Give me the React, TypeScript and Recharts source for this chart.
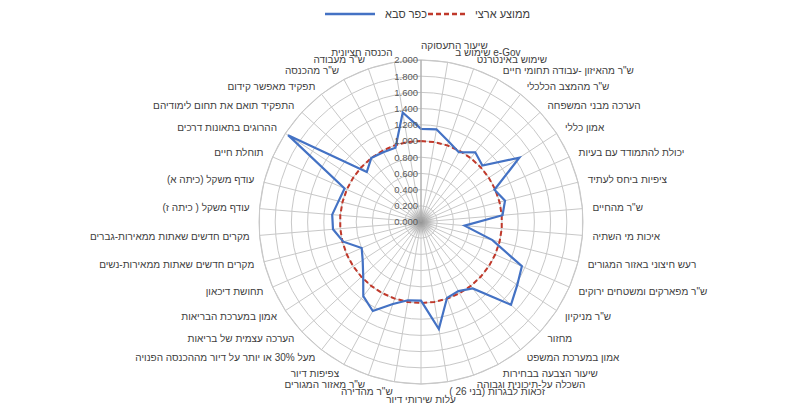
import React from 'react';
import { RadarChart, Radar, PolarGrid, PolarAngleAxis, PolarRadiusAxis, Legend, Customized } from 'recharts';

// categories clockwise from the top spoke
const categories = [
  'שיעור התעסוקה',
  'שימוש ב e-Gov',
  'שימוש באינטרנט',
  'ש"ר מהאיזון -עבודה תחומי חיים',
  'ש"ר מהמצב הכלכלי',
  'הערכה מבני המשפחה',
  'אמון כללי',
  'יכולת להתמודד עם בעיות',
  'ציפיות ביחס לעתיד',
  'ש"ר מהחיים',
  'איכות מי השתיה',
  'רעש חיצוני באזור המגורים',
  'ש"ר מפארקים ומשטחים ירוקים',
  'ש"ר מניקיון',
  'מחזור',
  'אמון במערכת המשפט',
  'שיעור הצבעה בבחירות',
  'השכלה על-תיכונית וגבוהה',
  'זכאות לבגרות (בני 26 )',
  'עלות שירותי דיור',
  'ש"ר מהדירה',
  'ש"ר מאזור המגורים',
  'צפיפות דיור',
  'מעל 30% או יותר על דיור מההכנסה הפנויה',
  'הערכה עצמית של בריאות',
  'אמון במערכת הבריאות',
  'תחושת דיכאון',
  'מקרים חדשים שאתות ממאירות-נשים',
  'מקרים חדשים שאתות ממאירות-גברים',
  'עודף משקל ( כיתה ז)',
  'עודף משקל (כיתה א)',
  'תוחלת חיים',
  'ההרוגים בתאונות דרכים',
  'התפקיד תואם את תחום לימודיהם',
  'תפקיד מאפשר קידום',
  'ש"ר מהכנסה',
  'ש"ר מעבודה',
  'הכנסה חציונית',
];

const kfarSaba = [
  1.15, 1.16, 1.05, 0.98, 1.09, 1.03, 1.45, 0.99, 1.07, 1.01,
  0.54, 0.91, 1.36, 1.42, 1.51, 1.04, 0.97, 0.99, 1.34, 0.97,
  0.98, 1.07, 1.25, 1.16, 0.97, 0.86, 0.8, 0.99, 1.09, 1.1,
  1.05, 1.03, 1.96, 0.91, 1.0, 0.98, 0.97, 1.37,
];

const nationalAvg = [
  1, 1, 1, 1, 1, 1, 1, 1, 1, 1,
  1, 1, 1, 1, 1, 1, 1, 1, 1, 1,
  1, 1, 1, 1, 1, 1, 1, 1, 1, 1,
  1, 1, 1, 1, 1, 1, 1, 1,
];

const radiusTicks = [0, 0.2, 0.4, 0.6, 0.8, 1.0, 1.2, 1.4, 1.6, 1.8, 2.0];

const data = categories.map((name, i) => ({ name, kfarSaba: kfarSaba[i], avg: nationalAvg[i] }));

const CX = 413;
const CY = 214;
const R = 162;
const FONT = "Arial, 'Liberation Sans', 'DejaVu Sans', sans-serif";

const AngleTick = (props: any) => {
  const { payload } = props;
  const i = categories.indexOf(payload.value);
  const a = (i * 2 * Math.PI) / categories.length;
  const s = Math.sin(a);
  const c = Math.cos(a);
  // the very top and bottom labels sit a little further out, like Excel does
  const off = Math.abs(c) > 0.999 ? 15 : 10;
  const x = CX + (R + off) * s + (i === 1 ? 6 : 0);
  const y = CY - (R + off) * c;
  let anchor = s > 0.02 ? 'start' : s < -0.02 ? 'end' : 'middle';
  if (i === 0) anchor = 'start';
  return (
    <text x={x} y={y} dy="0.35em" textAnchor={anchor} fontSize={10} fill="#404040" fontFamily={FONT}>
      {payload.value}
    </text>
  );
};

const RadiusTick = (props: any) => {
  const { x, y, payload } = props;
  return (
    <text x={x - 3} y={y} dy="0.35em" textAnchor="end" fontSize={9.5} fill="#595959" fontFamily={FONT}>
      {Number(payload.value).toFixed(3)}
    </text>
  );
};

const CenterGlow = () => (
  <g>
    <defs>
      <radialGradient id="glow">
        <stop offset="0%" stopColor="#8c8c8c" stopOpacity={0.9} />
        <stop offset="60%" stopColor="#b0b0b0" stopOpacity={0.5} />
        <stop offset="100%" stopColor="#d0d0d0" stopOpacity={0} />
      </radialGradient>
    </defs>
    <circle cx={CX} cy={CY} r={16} fill="url(#glow)" />
  </g>
);

const renderLegend = () => (
  <svg width={790} height={20} style={{ display: 'block' }}>
    <line x1={317} y1={6} x2={367} y2={6} stroke="#4472c4" strokeWidth={2.5} />
    <text x={377} y={6} dy="0.35em" fontSize={11} fill="#404040" fontFamily={FONT}>כפר סבא</text>
    <line x1={420} y1={6} x2={459} y2={6} stroke="#c0392b" strokeWidth={2.5} strokeDasharray="5 3" />
    <text x={467} y={6} dy="0.35em" fontSize={11} fill="#404040" fontFamily={FONT}>ממוצע ארצי</text>
  </svg>
);

export default function App() {
  return (
    <div style={{ width: 790, height: 400, fontFamily: FONT }}>
      <RadarChart width={790} height={400} data={data} cx={CX} cy={CY} outerRadius={R} margin={{ top: 0, right: 0, bottom: 0, left: 0 }}>
        <Legend verticalAlign="top" content={renderLegend} wrapperStyle={{ top: 0, left: 0, width: 790 }} />
        <PolarGrid gridType="circle" stroke="#c8c8c8" strokeWidth={1} />
        <Customized component={CenterGlow} />
        <PolarAngleAxis dataKey="name" tick={<AngleTick />} tickLine={false} axisLine={{ stroke: '#c8c8c8' }} />
        <PolarRadiusAxis
          angle={90}
          domain={[0, 2]}
          ticks={radiusTicks as any}
          tickCount={11}
          tick={<RadiusTick />}
          tickLine={false}
          axisLine={{ stroke: '#a6a6a6' }}
        />
        <Radar
          name="ממוצע ארצי"
          dataKey="avg"
          stroke="#c0392b"
          strokeWidth={2}
          strokeDasharray="5 3"
          fill="none"
          fillOpacity={0}
          dot={false}
          isAnimationActive={false}
        />
        <Radar
          name="כפר סבא"
          dataKey="kfarSaba"
          stroke="#4472c4"
          strokeWidth={2.2}
          fill="none"
          fillOpacity={0}
          dot={false}
          isAnimationActive={false}
        />
      </RadarChart>
    </div>
  );
}
